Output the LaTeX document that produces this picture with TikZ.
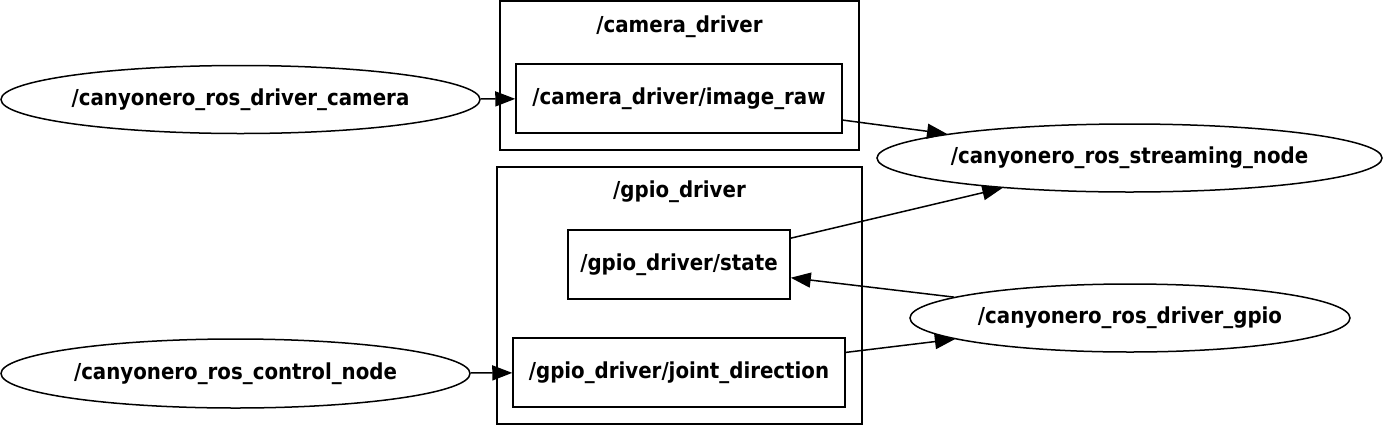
\documentclass[tikz,border=0pt]{standalone}
\usepackage{fontspec}
\setmainfont{DejaVu Sans Condensed}
\usepackage{tikz}
\usetikzlibrary{positioning, shapes.geometric, arrows.meta}

\begin{document}
\begin{tikzpicture}[x=1pt, y=-1pt,
    font=\fontsize{22}{26}\selectfont\bfseries,
    rosnode/.style={draw, ellipse, line width=1.5pt, inner sep=0pt, minimum height=68pt},
    topicbox/.style={draw, rectangle, line width=1.5pt, minimum height=69pt},
    cluster/.style={draw, rectangle, line width=1.5pt, inner sep=0pt},
    edge/.style={-{Triangle[length=20pt, width=15pt]}, line width=1.5pt}]
    \useasboundingbox (0,0) rectangle (1383,426);

    % Clusters
    \node[cluster, minimum width=359pt, minimum height=149pt] (camera_cluster) at (679.5,75.5) {};
    \node[below=12pt of camera_cluster.north] (camera_label) {/camera\_driver};
    \node[cluster, minimum width=365pt, minimum height=257pt] (gpio_cluster) at (679.5,295.5) {};
    \node[below=11pt of gpio_cluster.north] (gpio_label) {/gpio\_driver};

    % Topics
    \node[topicbox, minimum width=326pt] (image_raw) at (679,98.5) {/camera\_driver/image\_raw};
    \node[topicbox, minimum width=222pt] (gpio_state) at (679,264.5) {/gpio\_driver/state};
    \node[topicbox, minimum width=332pt] (joint_direction) at (679,372.5) {/gpio\_driver/joint\_direction};

    % ROS nodes
    \node[rosnode, minimum width=479pt] (driver_camera) at (240.5,99.5) {\makebox[0pt]{/canyonero\_ros\_driver\_camera}};
    \node[rosnode, minimum width=505pt] (streaming_node) at (1129.5,158) {\makebox[0pt]{/canyonero\_ros\_streaming\_node}};
    \node[rosnode, minimum width=440pt] (driver_gpio) at (1130,318) {\makebox[0pt]{/canyonero\_ros\_driver\_gpio}};
    \node[rosnode, minimum width=469pt, minimum height=69pt] (control_node) at (235.5,373.5) {\makebox[0pt]{/canyonero\_ros\_control\_node}};

    % Arrows
    \draw[edge] (driver_camera) -- (image_raw);
    \draw[edge] (image_raw) -- (streaming_node);
    \draw[edge] (gpio_state) -- (streaming_node);
    \draw[edge] (driver_gpio) -- (gpio_state);
    \draw[edge] (control_node) -- (joint_direction);
    \draw[edge] (joint_direction) -- (driver_gpio);
\end{tikzpicture}
\end{document}
